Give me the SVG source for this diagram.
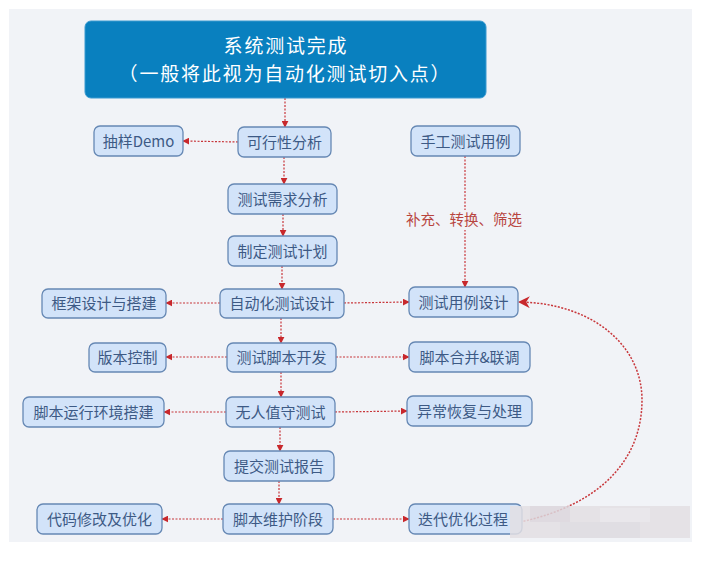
<svg xmlns="http://www.w3.org/2000/svg" width="718" height="573" viewBox="0 0 718 573">
<defs>
<marker id="ah" viewBox="0 0 10 10" refX="9" refY="5" markerWidth="7" markerHeight="7" markerUnits="userSpaceOnUse" orient="auto">
<path d="M0,0 L10,5 L0,10 z" fill="#c8282c"/>
</marker>
<marker id="ahb" viewBox="0 0 10 10" refX="9" refY="5" markerWidth="12" markerHeight="12" markerUnits="userSpaceOnUse" orient="auto">
<path d="M0,0 L10,5 L0,10 L3,5 z" fill="#c8282c"/>
</marker>
</defs>
<style>
.n rect{fill:#d2e3f9;stroke:#6688b4;stroke-width:1.3}
.n text{font-family:"Noto Sans CJK SC","Noto Sans",sans-serif;font-size:15px;fill:#3d5a85;text-anchor:middle}
.c{fill:none;stroke:#c8363a;stroke-width:1.2;stroke-dasharray:2 1.5;marker-end:url(#ah)}
.lbl{font-family:"Noto Sans CJK SC",sans-serif;font-size:14.5px;fill:#b8453f;text-anchor:middle}
.top text{font-family:"Noto Sans CJK SC",sans-serif;font-size:19px;letter-spacing:1.8px;fill:#ffffff;text-anchor:middle}
</style>
<rect x="0" y="0" width="718" height="573" fill="#ffffff"/>
<rect x="9" y="9" width="683" height="533" fill="#f1f3f7"/>

<g id="connectors">
<path class="c" d="M285,98 L285,127"/>
<path class="c" d="M284,157 L284,184"/>
<path class="c" d="M283,214 L283,236"/>
<path class="c" d="M282,266 L282,289"/>
<path class="c" d="M281,318 L281,343"/>
<path class="c" d="M281,372 L281,397"/>
<path class="c" d="M280,427 L280,451"/>
<path class="c" d="M279,481 L279,504"/>
<path class="c" d="M238,142 L183,141"/>
<path class="c" d="M220,303 L166,303"/>
<path class="c" d="M344,303 L409,302"/>
<path class="c" d="M227,357 L166,357"/>
<path class="c" d="M336,357 L409,357"/>
<path class="c" d="M226,412 L164,412"/>
<path class="c" d="M335,412 L407,411"/>
<path class="c" d="M223,519 L162,519"/>
<path class="c" d="M333,519 L409,519"/>
<path class="c" d="M465,156 L465,287"/>
<path class="c" style="marker-end:url(#ahb);stroke-width:1.5" d="M520,522 C600,505 642,460 642,400 C642,345 592,303 519,302"/>
</g>

<g id="label-supplement">
<rect x="402" y="210" width="124" height="20" fill="#f1f3f7"/>
<text class="lbl" x="464" y="225">补充、转换、筛选</text>
</g>

<g id="n-top" class="top">
<rect x="85" y="21" width="401" height="77" rx="6" fill="#0980bf" stroke="#3a9ad0" stroke-width="1"/>
<text x="286" y="53">系统测试完成</text>
<text x="285" y="80.5">（一般将此视为自动化测试切入点）</text>
</g>

<g id="n-feasibility" class="n"><rect x="238" y="127" width="93" height="30" rx="6"/><text x="284.5" y="147.5">可行性分析</text></g>
<g id="n-demo" class="n"><rect x="94" y="126" width="89" height="30" rx="6"/><text x="138.5" y="146.5">抽样Demo</text></g>
<g id="n-manual" class="n"><rect x="411" y="126" width="109" height="30" rx="6"/><text x="465.5" y="146.5">手工测试用例</text></g>
<g id="n-req" class="n"><rect x="228" y="184" width="109" height="30" rx="6"/><text x="282.5" y="204.5">测试需求分析</text></g>
<g id="n-plan" class="n"><rect x="228" y="236" width="109" height="30" rx="6"/><text x="282.5" y="256.5">制定测试计划</text></g>
<g id="n-autodesign" class="n"><rect x="220" y="289" width="124" height="29" rx="6"/><text x="282" y="309">自动化测试设计</text></g>
<g id="n-framework" class="n"><rect x="42" y="289" width="124" height="29" rx="6"/><text x="104" y="309">框架设计与搭建</text></g>
<g id="n-casedesign" class="n"><rect x="409" y="287" width="109" height="30" rx="6"/><text x="463.5" y="307.5">测试用例设计</text></g>
<g id="n-scriptdev" class="n"><rect x="227" y="343" width="109" height="29" rx="6"/><text x="281.5" y="363">测试脚本开发</text></g>
<g id="n-version" class="n"><rect x="89" y="343" width="77" height="29" rx="6"/><text x="127.5" y="363">版本控制</text></g>
<g id="n-merge" class="n"><rect x="409" y="342" width="121" height="30" rx="6"/><text x="469.5" y="362.5">脚本合并&amp;联调</text></g>
<g id="n-unattended" class="n"><rect x="226" y="397" width="109" height="30" rx="6"/><text x="280.5" y="417.5">无人值守测试</text></g>
<g id="n-env" class="n"><rect x="23" y="397" width="141" height="30" rx="6"/><text x="93.5" y="417.5">脚本运行环境搭建</text></g>
<g id="n-exception" class="n"><rect x="407" y="396" width="125" height="30" rx="6"/><text x="469.5" y="416.5">异常恢复与处理</text></g>
<g id="n-report" class="n"><rect x="224" y="451" width="110" height="30" rx="6"/><text x="279" y="471.5">提交测试报告</text></g>
<g id="n-maint" class="n"><rect x="223" y="504" width="110" height="30" rx="6"/><text x="278" y="524.5">脚本维护阶段</text></g>
<g id="n-code" class="n"><rect x="37" y="504" width="125" height="30" rx="6"/><text x="99.5" y="524.5">代码修改及优化</text></g>
<g id="n-iter" class="n"><rect x="409" y="504" width="113" height="30" rx="6"/><text x="463" y="524.5">迭代优化过程</text></g>

<g id="watermark" opacity="0.85">
<rect x="510" y="506" width="180" height="32" fill="#e3e0e4"/>
<rect x="530" y="506" width="40" height="16" fill="#dcd6dc"/>
<rect x="600" y="508" width="50" height="14" fill="#e8e6ea"/>
<rect x="560" y="522" width="80" height="16" fill="#dedbe0"/>
</g>
</svg>
